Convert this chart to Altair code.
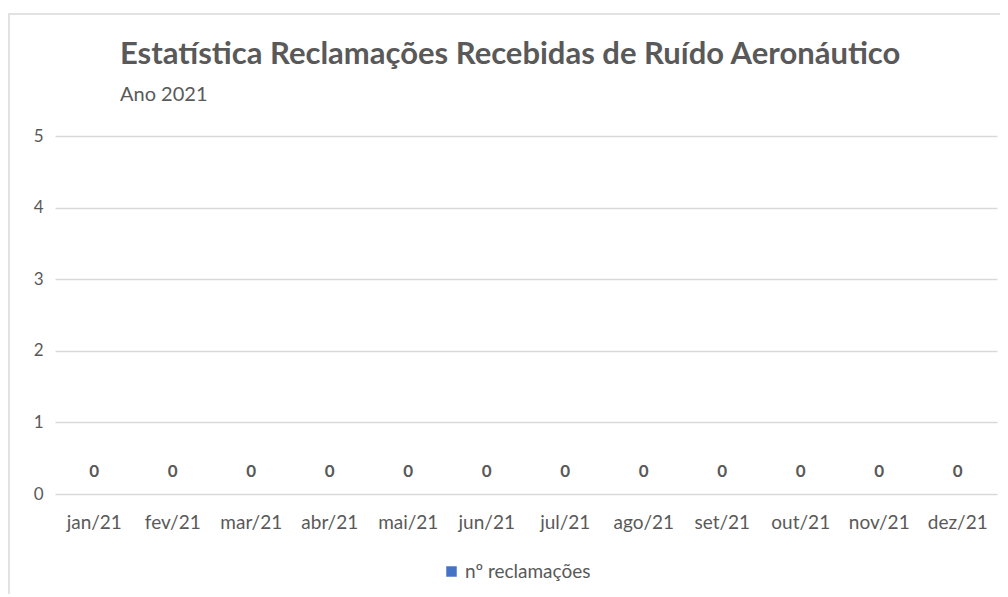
import altair as alt
import pandas as pd

months = ["jan/21", "fev/21", "mar/21", "abr/21", "mai/21", "jun/21",
          "jul/21", "ago/21", "set/21", "out/21", "nov/21", "dez/21"]
values = [0, 0, 0, 0, 0, 0, 0, 0, 0, 0, 0, 0]
series = ["nº reclamações"] * 12

df = pd.DataFrame({"mes": months, "valor": values, "serie": series})

FONT = "Lato"
GREY = "#595959"

base = alt.Chart(df).encode(
    x=alt.X("mes:N", sort=months, title=None,
            scale=alt.Scale(paddingInner=0.35, paddingOuter=0.175),
            axis=alt.Axis(labelAngle=0, ticks=False, domain=False, grid=False,
                          labelPadding=19, labelFontSize=19, labelColor=GREY,
                          labelFont=FONT)),
    y=alt.Y("valor:Q", title=None,
            scale=alt.Scale(domain=[0, 5], nice=False),
            axis=alt.Axis(values=[0, 1, 2, 3, 4, 5], ticks=False, domain=False,
                          grid=True, gridColor="#d9d9d9", gridWidth=1.5,
                          labelPadding=12, labelFontSize=17, labelColor=GREY,
                          labelFont=FONT)),
)

bars = base.mark_bar(color="#4472C4").encode(
    color=alt.Color("serie:N", scale=alt.Scale(range=["#4472C4"]),
                    legend=alt.Legend(title=None, orient="none", legendX=387, legendY=426,
                                      symbolType="square", symbolSize=110,
                                      symbolStrokeWidth=0, labelFontSize=19,
                                      labelColor=GREY, labelFont=FONT))
)

labels = base.mark_text(dy=-22, fontSize=17, fontWeight="bold", color=GREY, font=FONT).encode(
    text=alt.Text("valor:Q")
)

border = alt.Chart(pd.DataFrame({"a": [0]})).mark_rect(
    fill="transparent", stroke="#d9d9d9", strokeWidth=1.5
).encode(x=alt.value(-46), x2=alt.value(960), y=alt.value(-122), y2=alt.value(520))

chart = alt.layer(border, bars, labels).properties(
    width=942, height=358,
    background="white",
    autosize=alt.AutoSizeParams(type="none"),
    padding={"left": 47, "top": 128, "right": 3, "bottom": 100},
    title=alt.TitleParams(
        text="Estatística Reclamações Recebidas de Ruído Aeronáutico",
        subtitle="Ano 2021",
        anchor="start", frame="group", dx=65, offset=-93,
        font=FONT, fontSize=31, fontWeight="bold", color=GREY,
        subtitleFont=FONT, subtitleFontSize=20, subtitleColor=GREY,
        subtitlePadding=14,
    ),
).configure_view(stroke=None)

chart.save("out.html", embed_options={"renderer": "svg", "actions": False})
